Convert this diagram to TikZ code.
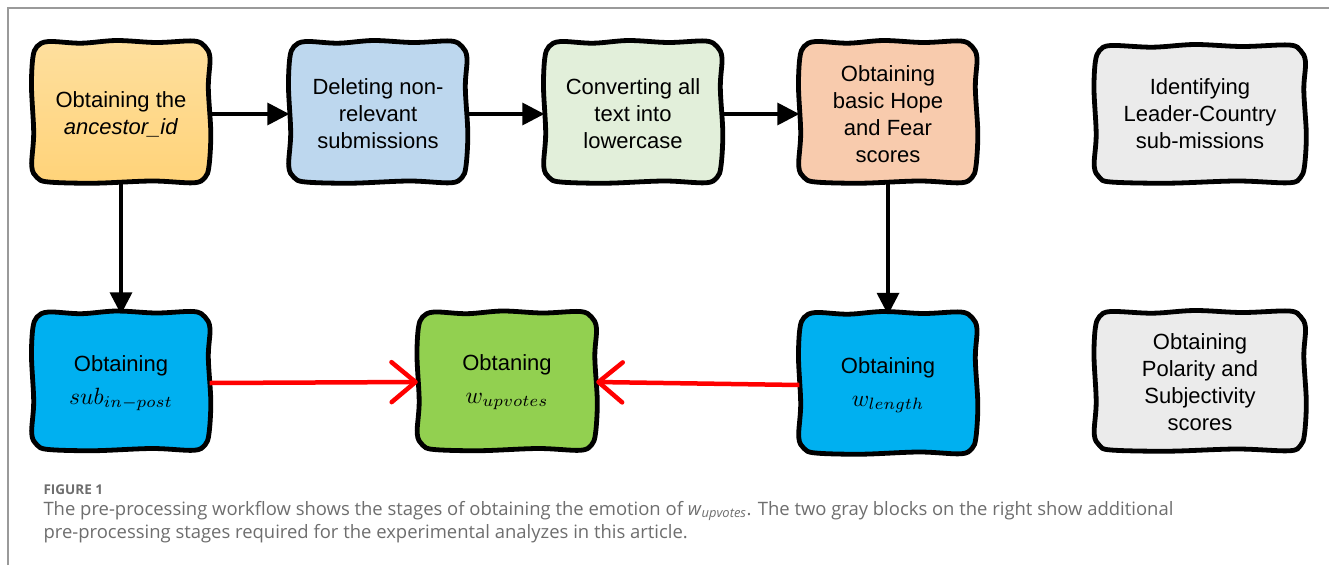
\documentclass[tikz,border=0pt]{standalone}
\usepackage{fontspec}
\setmainfont{Liberation Sans}
\newfontfamily\capfont{Open Sans}
\usetikzlibrary{arrows.meta}
\definecolor{yelT}{HTML}{FEDF9E}
\definecolor{yelB}{HTML}{FFD379}
\definecolor{blueL}{HTML}{BDD7EE}
\definecolor{greenL}{HTML}{E2EFDA}
\definecolor{peach}{HTML}{F8CBAD}
\definecolor{grayL}{HTML}{EBEBEB}
\definecolor{blueB}{HTML}{00B0F0}
\definecolor{greenB}{HTML}{92D050}
\definecolor{capgray}{HTML}{6E6E6E}
\definecolor{bordergray}{HTML}{9A9A9A}
\newcommand\bigmath[1]{\scalebox{2.35}{\fontsize{10}{12}\selectfont$#1$}}
\newcommand\wobbly[5]{%
  \pgfmathsetmacro\wa{#3/2}\pgfmathsetmacro\wb{#4/2}%
  \path[boxline,#5] plot[smooth cycle,tension=0.55] coordinates {
    ({#1-\wa+4.5},{#2-\wb+4.5})
    ({#1-\wa+16},{#2-\wb-0.5})
    ({#1-\wa*0.45},{#2-\wb+1.2})
    ({#1-\wa*0.05},{#2-\wb-1.5})
    ({#1+\wa*0.4},{#2-\wb+0.5})
    ({#1+\wa-16},{#2-\wb-1})
    ({#1+\wa-4.5},{#2-\wb+4.5})
    ({#1+\wa+0.5},{#2-\wb+16})
    ({#1+\wa-1.2},{#2-\wb*0.35})
    ({#1+\wa+1.3},{#2+\wb*0.3})
    ({#1+\wa-0.5},{#2+\wb-16})
    ({#1+\wa-4.5},{#2+\wb-4.5})
    ({#1+\wa-16},{#2+\wb+0.8})
    ({#1+\wa*0.35},{#2+\wb-1})
    ({#1-\wa*0.3},{#2+\wb+1.2})
    ({#1-\wa+16},{#2+\wb})
    ({#1-\wa+4.5},{#2+\wb-4.5})
    ({#1-\wa-0.8},{#2+\wb-16})
    ({#1-\wa+1.2},{#2+\wb*0.3})
    ({#1-\wa-1},{#2-\wb*0.35})
    ({#1-\wa+0.3},{#2-\wb+16})
  };}
\begin{document}
\begin{tikzpicture}[x=1pt,y=-1pt,
  boxline/.style={draw=black,line width=4.8pt,line join=round},
  txt/.style={align=center,inner sep=0pt,font=\fontsize{22}{27}\selectfont},
  flow/.style={line width=3.5pt,-{Triangle[length=22pt,width=22pt]}},
  redflow/.style={draw=red,line width=4.5pt,-{Straight Barb[length=24pt,width=40pt,line cap=round,line join=round]}},
  captitle/.style={anchor=base west,text=capgray,font=\capfont\bfseries\fontsize{13.5}{15}\selectfont},
  capline/.style={anchor=base west,text=capgray,font=\capfont\fontsize{18.45}{20}\selectfont}]
\useasboundingbox (0,0) rectangle (1329,565);
\fill[white] (0,0) rectangle (1329,565);
\draw[bordergray,line width=1.5pt] (8,565) -- (8,8) -- (1329,8);

\wobbly{121}{112}{177}{140}{top color=yelT,bottom color=yelB}
\wobbly{378}{112}{177}{140}{fill=blueL}
\wobbly{633}{112}{177}{140}{fill=greenL}
\wobbly{888}{112}{177}{140}{fill=peach}
\wobbly{1200}{114}{210}{136}{fill=grayL}
\wobbly{121}{381}{177}{137}{fill=blueB}
\wobbly{507}{381}{178}{137}{fill=greenB}
\wobbly{888}{383}{177}{140}{fill=blueB}
\wobbly{1200}{381}{210}{138}{fill=grayL}

\node[txt,minimum width=177pt,minimum height=140pt] (b1) at (121,114) {Obtaining the\\\textit{ancestor\_id}};
\node[txt,minimum width=177pt,minimum height=140pt] (b2) at (378,114) {Deleting non-\\relevant\\submissions};
\node[txt,minimum width=177pt,minimum height=140pt] (b3) at (633,114) {Converting all\\text into\\lowercase};
\node[txt,minimum width=177pt,minimum height=140pt] (b4) at (888,114) {Obtaining\\basic Hope\\and Fear\\scores};
\node[txt,minimum width=210pt,minimum height=136pt] (b5) at (1200,114) {Identifying\\Leader-Country\\sub-missions};
\node[txt,minimum width=177pt,minimum height=137pt] (b6) at (121,383) {Obtaining\\[6pt]\bigmath{sub_{in-post}}};
\node[txt,minimum width=178pt,minimum height=137pt] (b7) at (507,382) {Obtaning\\[6pt]\bigmath{w_{upvotes}}};
\node[txt,minimum width=177pt,minimum height=140pt] (b8) at (888,385) {Obtaining\\[6pt]\bigmath{w_{length}}};
\node[txt,minimum width=210pt,minimum height=138pt] (b9) at (1200,382) {Obtaining\\Polarity and\\Subjectivity\\scores};

\draw[flow] (b1.east) -- (b2.west);
\draw[flow] (b2.east) -- (b3.west);
\draw[flow] (b3.east) -- (b4.west);
\draw[flow] (b1.south) -- (b6.north);
\draw[flow] (b4.south) -- (b8.north);
\draw[redflow] (b6.east) -- (b7.west);
\draw[redflow] (b8.west) -- (b7.east);

\node[captitle] (ft) at (40,494) {FIGURE 1};
\node[capline] (c1) at (40,515) {The pre-processing workflow shows the stages of obtaining the emotion of \textit{w}\textsubscript{\textit{upvotes}}. The two gray blocks on the right show additional};
\node[capline] (c2) at (40,538) {pre-processing stages required for the experimental analyzes in this article.};
\end{tikzpicture}
\end{document}
